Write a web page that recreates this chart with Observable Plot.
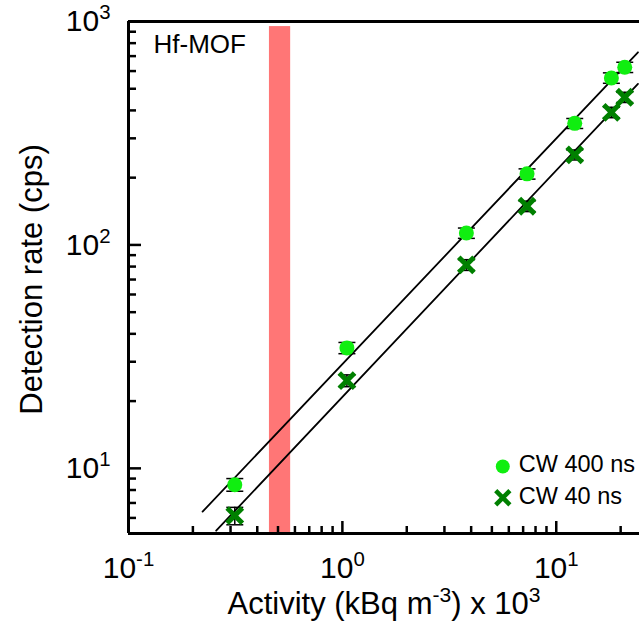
<!DOCTYPE html>
<html><head><meta charset="utf-8">
<script src="https://cdn.jsdelivr.net/npm/d3@7"></script>
<script src="https://cdn.jsdelivr.net/npm/@observablehq/plot@0.6"></script>
<style>body{margin:0;background:#fff} svg{display:block}</style>
</head><body><div id="chart"></div>
<script>
// ---- data ----
const activity = [0.314, 1.05, 3.80, 7.30, 12.2, 18.1, 20.9];   // kBq m^-3 x 10^3
const cw400 = [8.45, 34.6, 113, 208, 350, 559, 624];           // cps
const cw40  = [6.14, 24.7, 81.4, 149, 253, 392, 458];          // cps
const err400 = [0.55, 2.0, 6, 11, 18, 30, 33];
const err40  = [0.55, 1.5, 4.5, 8, 13, 21, 24];
const fitUpperX = [0.222, 24.1];
const fitUpperY = [6.40, 728];
const fitLowerX = [0.257, 24.1];
const fitLowerY = [5.26, 526];
const bandX = [0.456, 0.573];
const bandTop = 949;
const xMajor = [0.1, 1, 10];
const xMinor = [0.2,0.3,0.4,0.5,0.6,0.7,0.8,0.9,2,3,4,5,6,7,8,9,20];
const yMajor = [10, 100, 1000];
const yMinor = [6,7,8,9,20,30,40,50,60,70,80,90,200,300,400,500,600,700,800,900];
const seriesNames = ["CW 400 ns", "CW 40 ns"];
const xDomain = [0.1, 24.5];
const yDomain = [5.11, 1000];

const pts400 = activity.map((x, i) => ({x, y: cw400[i], e: err400[i]}));
const pts40  = activity.map((x, i) => ({x, y: cw40[i],  e: err40[i]}));
const fitU = fitUpperX.map((x, i) => ({x, y: fitUpperY[i]}));
const fitL = fitLowerX.map((x, i) => ({x, y: fitLowerY[i]}));

const capSymbol = {draw(ctx, size) { const r = Math.sqrt(size / Math.PI); ctx.moveTo(-r, 0); ctx.lineTo(r, 0); }};
const FONT = "'Liberation Sans', Arial, sans-serif";
const LIME = "#10ee10", DARK = "#008000";
const sup = d => `10^{${Math.round(Math.log10(d))}}`;

function errMarks(pts) {
  return [
    Plot.ruleX(pts, {x: "x", y1: d => d.y - d.e, y2: d => d.y + d.e, stroke: "black", strokeWidth: 1.5}),
    Plot.dot(pts, {x: "x", y: d => d.y - d.e, symbol: capSymbol, r: 8.5, stroke: "black", strokeWidth: 1.5, fill: "none"}),
    Plot.dot(pts, {x: "x", y: d => d.y + d.e, symbol: capSymbol, r: 8.5, stroke: "black", strokeWidth: 1.5, fill: "none"})
  ];
}

const chart = Plot.plot({
  width: 639, height: 621,
  marginLeft: 128, marginRight: 0, marginTop: 21, marginBottom: 88,
  style: {fontFamily: FONT, background: "white", color: "black"},
  x: {type: "log", domain: xDomain, label: null, axis: null},
  y: {type: "log", domain: yDomain, label: null, axis: null},
  marks: [
    Plot.rect([0], {x1: bandX[0], x2: bandX[1], y1: yDomain[0], y2: bandTop, fill: "#ff7676"}),
    Plot.line(fitU, {x: "x", y: "y", stroke: "black", strokeWidth: 1.8, clip: true}),
    Plot.line(fitL, {x: "x", y: "y", stroke: "black", strokeWidth: 1.8, clip: true}),
    ...errMarks(pts400),
    ...errMarks(pts40),
    Plot.dot(pts400, {x: "x", y: "y", r: 7.5, fill: LIME, stroke: "none"}),
    Plot.dot(pts40, {x: "x", y: "y", r: 7, symbol: "times", stroke: DARK, strokeWidth: 5, fill: "none"}),
    // frame
    Plot.ruleX([xDomain[0]], {stroke: "black", strokeWidth: 3}),
    Plot.ruleY([yDomain[0]], {stroke: "black", strokeWidth: 3}),
    Plot.ruleY([yDomain[1]], {stroke: "black", strokeWidth: 3}),
    // inward ticks
    Plot.ruleX(xMajor, {x: d => d, insetTop: 500, stroke: "black", strokeWidth: 2.5}),
    Plot.ruleX(xMinor, {x: d => d, insetTop: 505, stroke: "black", strokeWidth: 2.5}),
    Plot.ruleY(yMajor, {y: d => d, insetRight: 498, stroke: "black", strokeWidth: 2.5}),
    Plot.ruleY(yMinor, {y: d => d, insetRight: 503, stroke: "black", strokeWidth: 2.5}),
    // tick labels
    Plot.axisX(xMajor, {anchor: "bottom", tickSize: 0, tickPadding: 23, tickFormat: sup, fontSize: 30, label: null}),
    Plot.axisY(yMajor, {anchor: "left", tickSize: 0, tickPadding: 18, tickFormat: sup, fontSize: 30, label: null}),
    // axis titles
    Plot.text(["Activity (kBq m^{-3}) x 10^{3}"], {frameAnchor: "bottom", dy: 71, fontSize: 31, textAnchor: "middle", lineAnchor: "middle"}),
    Plot.text(["Detection rate (cps)"], {frameAnchor: "left", dx: -96, dy: 2, rotate: -90, fontSize: 31, textAnchor: "middle", lineAnchor: "middle"}),
    Plot.text(["Hf-MOF"], {frameAnchor: "top-left", dx: 25, dy: 22.7, fontSize: 26, textAnchor: "start", lineAnchor: "middle"}),
    // legend
    Plot.dot([seriesNames[0]], {frameAnchor: "bottom-right", dx: -136.7, dy: -67, r: 7, fill: LIME, stroke: "none"}),
    Plot.dot([seriesNames[1]], {frameAnchor: "bottom-right", dx: -136.7, dy: -35.7, r: 6.5, symbol: "times", stroke: DARK, strokeWidth: 4.5, fill: "none"}),
    Plot.text([seriesNames[0]], {text: d => d, frameAnchor: "bottom-right", dx: -120.7, dy: -68.8, fontSize: 23.5, textAnchor: "start", lineAnchor: "middle"}),
    Plot.text([seriesNames[1]], {text: d => d, frameAnchor: "bottom-right", dx: -120.7, dy: -37.2, fontSize: 23.5, textAnchor: "start", lineAnchor: "middle"})
  ]
});
document.getElementById("chart").appendChild(chart);

// turn "^{...}" into raised superscript tspans
const NS = "http://www.w3.org/2000/svg";
chart.querySelectorAll("text").forEach(t => {
  const s = t.textContent;
  if (!s.includes("^{")) return;
  const fs = parseFloat(getComputedStyle(t).fontSize);
  while (t.firstChild) t.removeChild(t.firstChild);
  const parts = s.split(/\^\{([^}]*)\}/);
  let raised = false;
  parts.forEach((p, i) => {
    if (!p) return;
    const ts = document.createElementNS(NS, "tspan");
    ts.textContent = p;
    if (i % 2 === 1) { ts.setAttribute("font-size", (fs * 0.68).toFixed(1)); ts.setAttribute("dy", (-0.4 * fs).toFixed(1)); raised = true; }
    else if (raised) { ts.setAttribute("dy", (0.4 * fs).toFixed(1)); raised = false; }
    t.appendChild(ts);
  });
});
</script></body></html>
